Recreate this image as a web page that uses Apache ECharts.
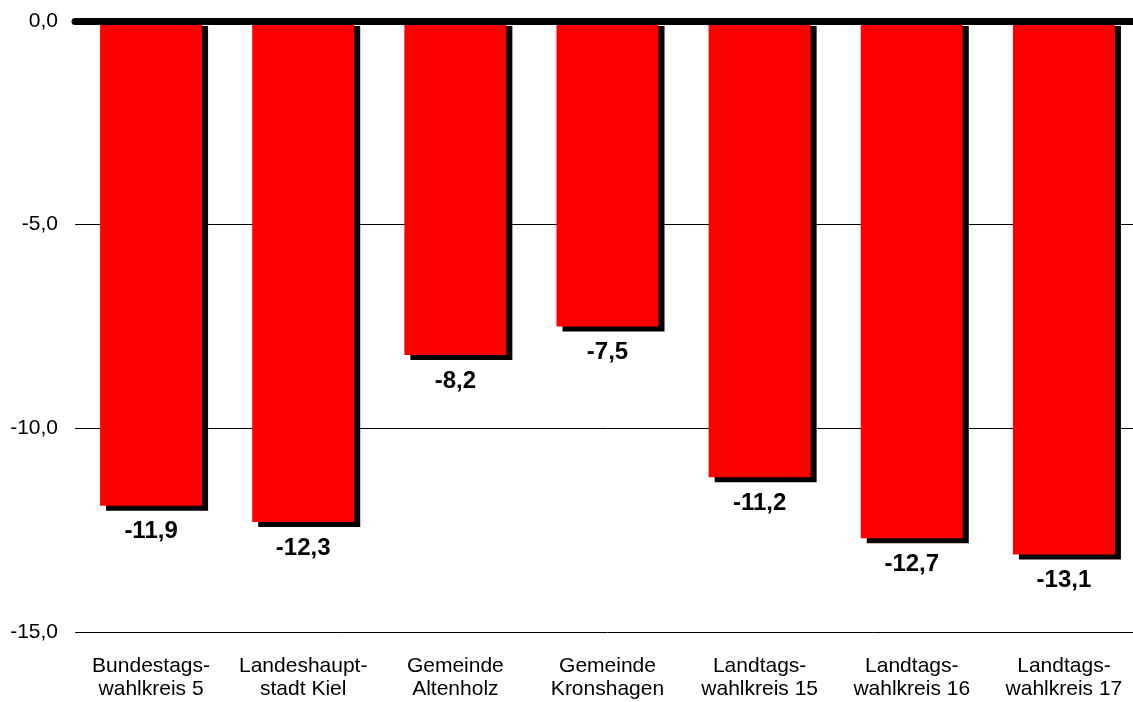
<!DOCTYPE html>
<html><head><meta charset="utf-8">
<script src="https://cdn.jsdelivr.net/npm/echarts@6/dist/echarts.min.js"></script>
<style>html,body{margin:0;padding:0;background:#fff;overflow:hidden}#c{width:1140px;height:702px}</style>
</head><body><div id="c"></div>
<script>
const categories = ["Bundestags-\nwahlkreis 5","Landeshaupt-\nstadt Kiel","Gemeinde\nAltenholz","Gemeinde\nKronshagen","Landtags-\nwahlkreis 15","Landtags-\nwahlkreis 16","Landtags-\nwahlkreis 17"];
const values = [-11.9,-12.3,-8.2,-7.5,-11.2,-12.7,-13.1];
const yTicks = [0,-5,-10,-15];

const fmt = v => v.toFixed(1).replace('.', ',');
const chart = echarts.init(document.getElementById('c'));
chart.setOption({
  animation:false,
  grid:{left:75,right:0,top:21,height:611},
  xAxis:{type:'category',data:categories,position:'bottom',
    axisLine:{show:false},axisTick:{show:false},
    axisLabel:{interval:0,color:'#000',fontFamily:'Liberation Sans, Arial',fontSize:21,lineHeight:23,margin:23}},
  yAxis:{type:'value',min:-15,max:0,interval:5,
    axisLine:{show:false},axisTick:{show:false},
    splitLine:{lineStyle:{color:'#000',width:1}},
    axisLabel:{color:'#000',fontFamily:'Liberation Sans, Arial',fontSize:21,margin:17,formatter:v=>fmt(v)}},
  series:[{
    type:'bar',data:values,barWidth:102,
    itemStyle:{color:'#ff0000',shadowColor:'#000',shadowOffsetX:6,shadowOffsetY:5,shadowBlur:0},
    label:{show:true,position:'bottom',distance:14,color:'#000',fontWeight:'bold',fontSize:24,fontFamily:'Liberation Sans, Arial',formatter:p=>fmt(p.value)},
    markLine:{silent:true,symbol:'none',label:{show:false},
      lineStyle:{color:'#000',width:7,type:'solid',cap:'round'},
      data:[{yAxis:0}]}
  }]
});
</script></body></html>
